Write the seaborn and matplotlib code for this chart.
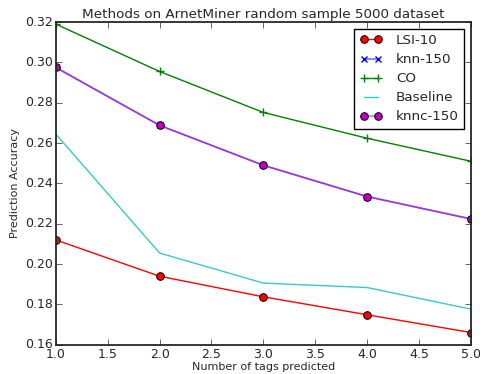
import matplotlib
matplotlib.use("Agg")
import matplotlib.pyplot as plt
import seaborn as sns
import pandas as pd

# Data
tags = [1, 2, 3, 4, 5]
lsi_10 = [0.212, 0.194, 0.1838, 0.1749, 0.1661]
knn_150 = [0.2975, 0.2688, 0.2490, 0.2335, 0.2224]
co = [0.319, 0.2955, 0.2752, 0.2624, 0.2510]
baseline = [0.2645, 0.2055, 0.1906, 0.1884, 0.1777]
knnc_150 = [0.2975, 0.2688, 0.2490, 0.2335, 0.2224]


def main():
    plt.style.use("classic")
    sns.set_style("ticks", {"xtick.direction": "in", "ytick.direction": "in"})
    plt.rcParams["font.family"] = ["DejaVu Sans"]

    fig = plt.figure(figsize=(4.81, 3.74), dpi=100, facecolor="white")
    ax = fig.add_axes([0.116, 0.078, 0.863, 0.863])

    sns.lineplot(x=tags, y=lsi_10, ax=ax, color="red", marker="o", markersize=5.5,
                 markeredgecolor="black", markeredgewidth=0.7, label="LSI-10", lw=1)
    sns.lineplot(x=tags, y=knn_150, ax=ax, color=(0, 0, 1, 0.55), marker="x",
                 markersize=5, markeredgecolor="blue", markeredgewidth=1,
                 label="knn-150", lw=1.2)
    sns.lineplot(x=tags, y=co, ax=ax, color="green", marker="+", markersize=6,
                 markeredgecolor="green", markeredgewidth=1, label="CO", lw=1)
    sns.lineplot(x=tags, y=baseline, ax=ax, color=(0, 0.75, 0.75, 0.8),
                 label="Baseline", lw=1)
    sns.lineplot(x=tags, y=knnc_150, ax=ax, color=(0.75, 0, 0.75, 0.55), marker="o",
                 markersize=5.5, markerfacecolor=(0.75, 0, 0.75, 1),
                 markeredgecolor="black", markeredgewidth=0.7, label="knnc-150", lw=1.2)

    ax.set_xlim(1.0, 5.0)
    ax.set_ylim(0.16, 0.32)
    ax.set_xticks([1.0, 1.5, 2.0, 2.5, 3.0, 3.5, 4.0, 4.5, 5.0])
    ax.set_yticks([0.16, 0.18, 0.20, 0.22, 0.24, 0.26, 0.28, 0.30, 0.32])
    ax.set_xticklabels([f"{v:.1f}" for v in ax.get_xticks()])
    ax.set_yticklabels([f"{v:.2f}" for v in ax.get_yticks()])
    ax.tick_params(labelsize=9, direction="in", top=True, right=True, length=4,
                   pad=2)
    for s in ax.spines.values():
        s.set_visible(True)
        s.set_linewidth(1.3)

    ax.set_title("Methods on ArnetMiner random sample 5000 dataset", fontsize=9.7, pad=3)
    ax.set_xlabel("Number of tags predicted", fontsize=8, labelpad=1)
    ax.set_ylabel("Prediction Accuracy", fontsize=8, labelpad=4)

    leg = ax.legend(loc="upper right", fontsize=9.7, frameon=True, fancybox=False,
                    numpoints=2, handlelength=1.7, handletextpad=1.0, borderpad=0.4,
                    labelspacing=0.45, borderaxespad=0.5)
    leg.get_frame().set_edgecolor("black")
    leg.get_frame().set_linewidth(1)

    fig.savefig("out.png", dpi=100, facecolor="white")
    plt.close(fig)


if __name__ == "__main__":
    main()
